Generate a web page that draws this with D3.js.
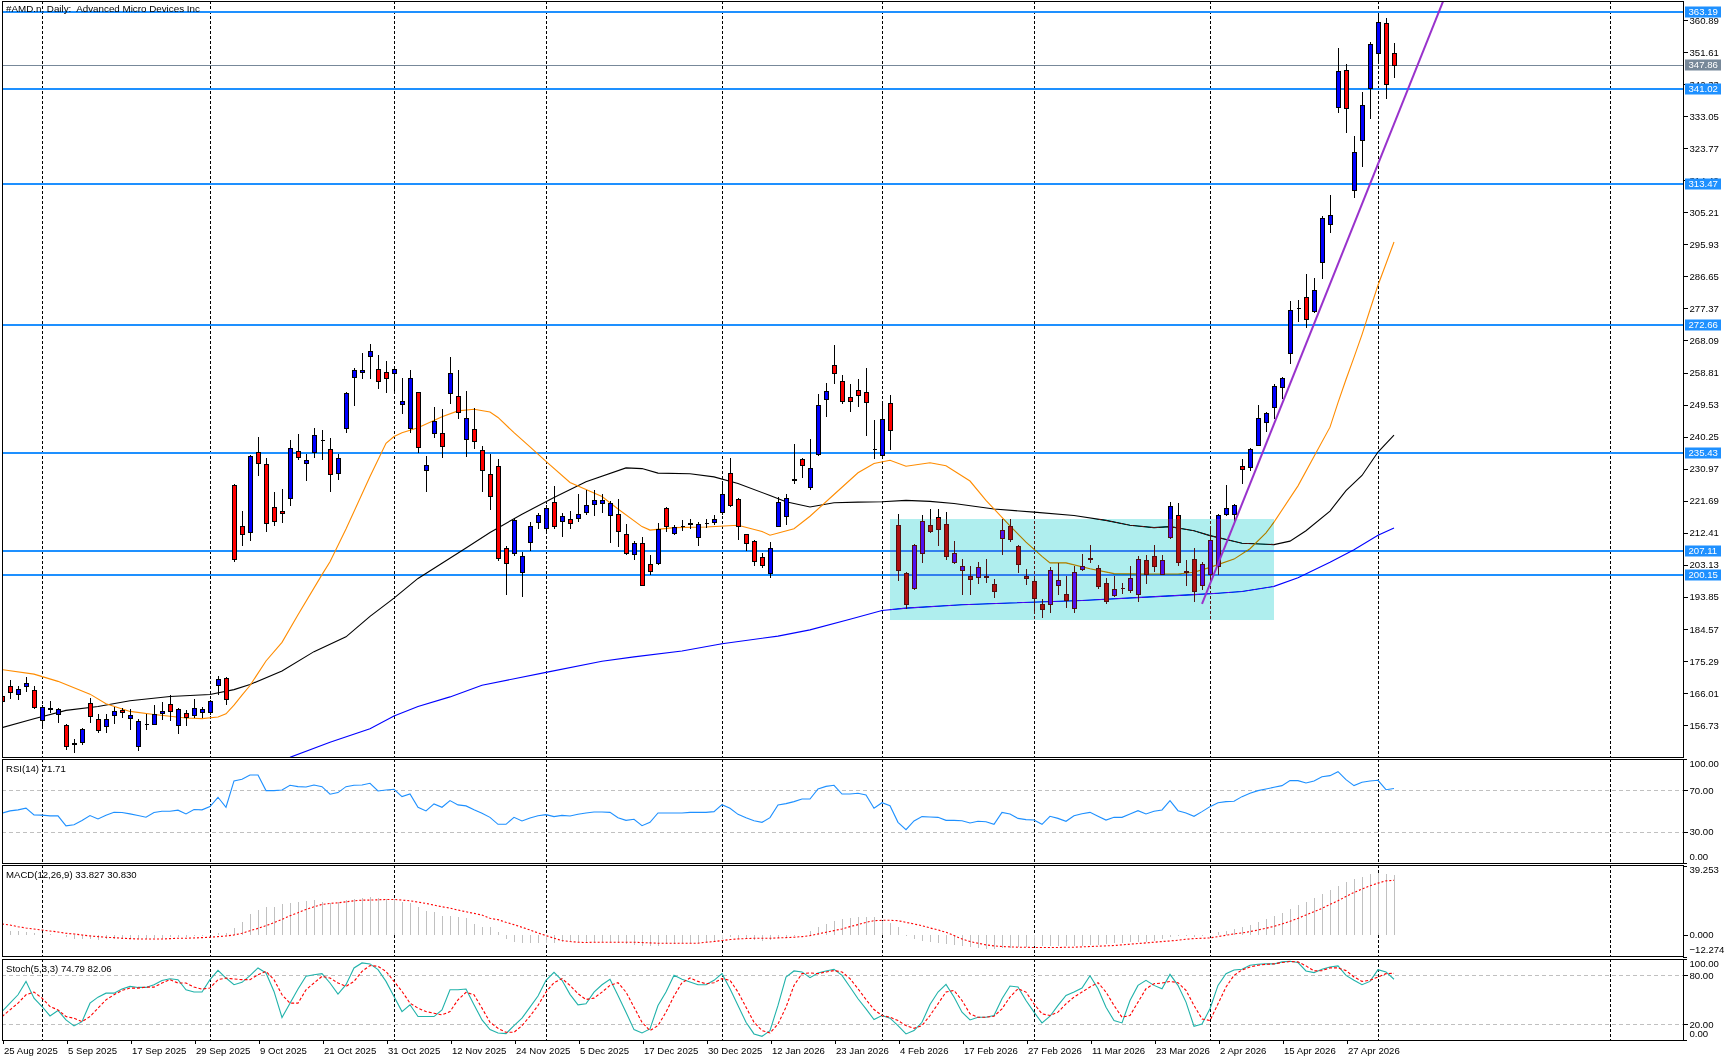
<!DOCTYPE html>
<html>
<head>
<meta charset="utf-8">
<script src="https://cdn.jsdelivr.net/npm/d3@7"></script>
<style>
  body { margin: 0; background: #fff; }
  svg { display: block; font-family: "Liberation Sans", Arial, sans-serif; }
</style>
</head>
<body>
<svg width="1731" height="1061"></svg>
<script>
// ---- data (bar 0 = 25 Aug 2025) ----
const opens = [165.13,168.1,165.8,168.12,166.77,158.08,161.46,159.82,156.82,151.4,
151.7,163.2,158.37,156.44,159.72,161.17,158.85,150.74,156.92,157.11,
160.3,162.72,156.82,160.3,159.72,160.49,160.49,168.41,170.44,226.18,
214.49,212.75,235.94,232.46,220.0,218.84,222.61,236.23,232.75,235.84,
239.22,236.81,229.85,242.8,257.58,258.83,263.47,259.7,258.83,258.74,
249.75,242.8,253.04,230.72,241.44,241.44,252.75,251.88,239.71,242.6,
236.5,229.54,231.86,208.1,206.65,201.14,209.83,215.53,213.89,221.33,
215.82,216.5,216.79,218.43,220.85,221.14,217.47,217.95,211.96,206.16,
209.54,203.46,203.75,219.69,212.44,214.28,214.95,211.19,215.15,215.53,
218.43,229.83,222.1,211.96,210.12,205.29,200.85,214.37,217.27,227.8,
233.89,225.68,235.34,251.27,260.94,256.49,251.85,253.88,253.21,236.59,
235.05,250.12,214.57,200.84,196.49,206.64,214.75,216.97,215.04,203.93,
201.71,199.78,199.68,199.68,197.65,210.89,214.27,208.47,199.78,198.33,
191.66,191.86,197.36,194.75,190.69,202.0,204.71,202.29,197.94,194.46,
196.3,195.82,194.75,204.41,205.77,200.55,211.18,217.65,201.32,204.71,
197.36,200.6,202.92,217.73,217.92,231.86,231.47,237.96,244.54,248.9,
254.7,264.58,277.36,280.65,276.68,290.81,301.68,335.78,346.31,311.53,
326.02,341.09,351.23,359.93,351.23];

const highs = [165.8,169.67,167.93,170.64,167.93,162.43,163.58,161.65,156.92,152.67,
155.95,164.55,160.01,160.01,161.94,161.75,161.46,158.56,160.01,162.43,
163.39,165.32,161.65,160.98,164.16,161.94,163.87,170.92,170.64,226.47,
218.65,234.88,240.19,234.1,224.15,225.02,239.22,240.96,235.36,242.7,
242.12,240.0,235.17,253.23,259.99,264.53,267.04,263.86,262.12,259.9,
257.09,259.51,253.23,234.59,248.88,248.21,263.18,259.51,253.42,248.4,
237.65,235.34,233.89,208.48,216.69,206.74,215.53,218.14,220.36,225.97,
218.14,218.72,223.55,224.9,224.71,223.55,221.52,222.3,215.05,209.93,
211.19,206.07,215.24,219.88,214.57,216.02,216.5,215.53,216.5,217.47,
227.13,234.08,222.49,212.15,210.41,206.65,209.64,222.78,223.55,238.23,
234.18,239.49,252.72,255.91,266.73,258.04,255.43,257.07,260.26,245.0,
250.02,252.24,217.95,201.03,209.24,217.46,219.19,219.39,218.33,209.92,
204.9,202.87,203.93,204.71,199.1,216.49,216.3,208.95,202.0,199.39,
193.31,202.48,203.64,199.87,202.67,206.35,208.95,202.97,199.29,199.78,
197.85,202.67,205.57,206.06,208.76,206.06,221.32,221.03,204.42,208.09,
203.93,213.6,217.73,226.15,220.82,233.8,237.09,249.38,247.44,255.48,
257.61,279.39,279.87,287.42,286.16,304.09,310.18,352.68,348.14,327.28,
339.93,354.42,362.63,361.38,354.33];

const lows = [163.0,164.55,164.26,166.58,161.65,156.63,160.49,157.6,149.77,148.9,
151.32,157.6,154.7,154.7,157.31,159.04,155.66,149.58,155.66,156.92,
158.56,158.27,154.41,156.63,159.04,159.04,160.01,165.81,162.91,204.25,
208.79,210.24,229.08,212.85,214.59,215.46,220.58,233.91,227.73,234.39,
233.81,224.54,227.92,241.64,249.37,257.29,257.29,254.39,253.23,253.71,
247.14,241.64,235.84,224.54,240.19,234.39,250.04,245.7,234.59,237.0,
224.52,219.4,204.62,194.76,205.87,194.09,207.32,213.89,213.12,213.89,
211.48,213.79,215.82,217.75,217.66,218.43,209.74,208.58,206.16,204.71,
197.18,200.56,203.46,212.93,211.96,213.31,213.89,208.77,214.08,215.05,
217.95,220.07,210.7,207.32,202.98,202.49,199.59,214.37,214.86,226.84,
228.57,225.0,234.85,246.25,255.91,250.12,247.7,249.25,240.65,234.18,
234.85,236.59,198.63,190.6,196.0,203.93,212.63,208.76,204.71,203.64,
194.56,194.66,197.85,198.14,193.79,206.35,210.02,201.03,197.46,189.73,
188.0,189.44,194.75,190.89,189.44,201.71,203.93,196.39,192.05,193.98,
194.95,195.24,192.63,197.85,201.23,200.36,210.98,202.97,197.17,192.63,
196.2,198.1,200.5,217.44,215.21,226.92,230.7,237.76,241.83,245.51,
251.51,261.48,273.87,271.93,276.29,286.16,299.55,334.33,328.53,309.7,
318.68,332.4,349.3,338.39,344.47];

const closes = [163.6,166.3,167.06,168.8,161.94,162.1,161.65,161.36,150.64,151.51,
155.47,159.33,155.37,158.37,160.69,160.4,159.53,157.79,157.11,159.82,
160.69,160.69,161.27,159.04,161.56,161.27,163.58,170.15,164.36,204.74,
212.17,234.58,232.75,215.36,215.94,218.26,237.1,234.49,233.43,240.77,
239.42,229.56,234.2,252.84,259.41,259.51,265.01,256.42,257.29,259.7,
250.52,257.09,237.29,231.98,244.82,237.58,258.64,247.53,245.79,239.13,
230.7,223.16,205.1,203.75,216.21,205.78,214.47,217.47,219.69,214.37,
217.37,215.34,217.75,220.36,221.81,221.81,221.04,212.93,206.65,209.54,
197.37,201.24,213.5,214.47,214.08,214.47,215.15,215.05,215.34,216.5,
223.74,220.36,214.37,209.54,204.23,203.07,208.1,221.43,222.58,228.0,
232.15,231.28,249.34,253.4,258.81,250.7,250.7,252.43,250.41,236.79,
245.48,242.29,201.53,191.86,208.95,215.91,213.01,213.59,205.77,206.64,
202.68,199.1,202.58,199.87,195.62,213.11,210.5,203.45,199.3,193.5,
190.31,201.71,198.62,192.82,201.03,202.77,205.0,196.97,192.72,196.2,
196.49,199.39,204.9,200.55,202.87,204.61,220.06,203.93,201.13,195.53,
203.26,210.4,217.44,219.56,220.53,230.89,236.7,245.51,247.06,254.9,
257.12,276.87,277.55,274.26,282.68,303.42,304.29,346.11,335.3,322.54,
336.17,353.84,360.22,342.25,347.86];

// moving averages, sampled as [bar, price]
const maFast = [[0,172.8],[4,171.5],[7,169.4],[11,165.7],[13,162.9],[16,160.7],[19,159.8],[23,158.8],[25,158.6],[27,159.1],
[28,160.0],[29,162.5],[30,165.4],[31,168.2],[33,175.3],[35,180.7],[37,188.7],[40,200.3],[41,204.0],[43,213.5],[46,228.7],
[48,238.3],[49,240.3],[50,241.4],[52,242.8],[55,246.0],[57,247.7],[59,248.2],[61,247.4],[62,245.8],[64,241.4],[66,237.3],
[68,233.1],[71,227.0],[75,222.9],[77,219.3],[80,214.2],[81,213.2],[84,213.9],[88,214.1],[92,214.6],[95,212.8],[96,211.7],
[99,213.6],[101,217.2],[104,223.5],[107,229.8],[109,232.5],[111,233.4],[113,231.7],[116,232.7],[118,231.8],[121,227.4],
[123,221.8],[126,214.4],[128,209.7],[130,205.6],[131,203.7],[133,203.7],[136,202.0],[139,200.6],[143,200.5],[147,200.5],
[149,201.0],[151,202.4],[154,204.8],[156,207.8],[158,212.4],[159,215.5],[162,226.0],[164,234.5],[166,243.0],[167,250.1],
[168,256.8],[169,263.2],[170,269.8],[171,277.0],[172,284.1],[173,290.3],[174,296.6]];
const maMid = [[0,156.0],[4,158.6],[8,161.0],[12,162.1],[16,163.8],[21,165.0],[26,165.6],[29,167.0],[31,168.5],[35,172.4],
[39,178.0],[43,182.3],[46,188.2],[49,193.5],[52,199.2],[55,203.6],[58,208.0],[61,212.5],[65,217.8],[69,222.6],[73,227.2],
[78,231.2],[80,231.0],[82,229.7],[86,229.5],[89,228.6],[92,226.7],[96,223.2],[98,221.4],[101,219.9],[104,221.1],[107,221.3],
[110,221.4],[113,221.8],[116,221.5],[119,220.9],[124,219.3],[129,218.4],[134,217.4],[138,216.0],[141,214.6],[144,213.9],
[146,214.2],[149,213.0],[151,211.6],[155,209.4],[159,209.0],[161,210.0],[163,213.0],[166,218.7],[168,224.6],[170,229.0],
[172,235.8],[174,240.7]];
const maSlow = [[36,147.4],[41,151.8],[46,155.7],[49,159.4],[52,162.1],[56,164.9],[60,168.3],[68,172.0],[75,175.2],[79,176.5],
[85,178.2],[90,180.3],[97,182.5],[101,184.3],[106,187.4],[110,189.9],[113,190.6],[120,191.6],[126,192.1],[135,192.8],
[143,193.8],[149,194.5],[152,194.9],[155,195.4],[159,196.9],[162,199.4],[166,203.9],[169,207.5],[172,211.7],[174,213.8]];

const rsi = [47.9,50.1,51.1,52.7,46.3,46.0,45.3,45.3,35.7,36.7,40.8,45.6,42.4,46.0,48.8,48.5,47.2,45.6,44.0,48.5,
49.8,49.8,50.8,47.2,51.4,51.1,54.3,63.2,53.6,78.9,80.5,84.6,84.6,69.6,69.6,70.2,74.7,73.4,73.1,75.0,
73.4,66.1,67.7,73.4,74.7,75.0,76.6,69.3,70.2,70.9,63.9,66.4,53.6,50.1,56.8,53.6,60.0,55.9,54.9,51.1,47.9,
43.9,37.2,37.2,43.9,40.4,43.3,45.5,46.5,44.6,45.8,45.2,46.8,48.1,49.0,49.0,48.7,43.6,41.0,42.0,35.9,
39.1,48.1,48.1,48.1,48.1,48.7,48.7,48.7,49.4,56.1,52.6,46.8,43.6,40.7,39.1,43.6,55.8,57.1,59.0,61.5,
61.5,71.2,73.7,74.7,66.3,66.3,67.0,65.4,52.6,58.0,55.1,39.1,32.1,40.4,44.6,44.2,43.9,41.0,41.0,40.7,
38.5,40.1,39.7,37.2,48.7,47.1,42.9,41.7,41.3,37.2,44.9,42.9,40.1,45.5,47.4,48.7,44.9,41.3,43.9,43.9,
47.1,50.3,47.1,49.7,51.0,59.9,50.3,48.1,44.9,49.4,54.2,58.0,59.0,59.3,63.8,67.0,69.6,71.2,72.8,74.4,
79.2,79.2,76.9,78.8,83.0,84.0,87.8,80.1,74.4,77.6,78.8,79.5,70.5,71.71];

const macdHist = [2.2,2.2,2.2,1.8,1.2,0.9,0.3,-0.1,-1.4,-2.3,-2.5,-2.5,-2.9,-2.2,-2.2,-2.2,-2.2,-2.2,-2.2,-2.0,
-1.6,-1.4,-1.2,-1.0,-0.7,-0.5,-0.1,0.9,0.9,3.7,7.4,11.8,14.0,15.5,15.9,17.4,18.1,18.7,19.3,19.7,
18.7,18.3,18.7,19.7,20.2,20.6,21.2,21.0,20.2,20.2,18.7,18.1,15.9,13.5,13.1,10.8,10.8,10.3,9.3,6.1,4.6,
4.3,1.4,-2.3,-3.8,-4.6,-4.9,-4.9,-4.8,-4.6,-4.2,-4.2,-4.2,-4.2,-4.2,-4.2,-4.2,-4.6,-5.1,-5.7,-6.4,
-6.4,-6.1,-5.3,-5.1,-4.8,-4.6,-4.6,-4.2,-3.8,-2.3,-1.4,-1.7,-2.3,-2.9,-3.3,-2.9,-1.7,-1.0,-0.4,0.1,
2.0,4.3,6.1,8.0,9.0,9.3,9.9,10.3,9.9,8.0,6.5,4.3,-0.5,-2.3,-3.3,-4.2,-4.8,-5.1,-5.7,-6.4,
-7.0,-7.4,-7.9,-8.3,-7.6,-7.4,-7.0,-7.0,-6.6,-6.6,-6.1,-6.4,-6.6,-6.4,-6.1,-5.7,-5.7,-5.3,-4.8,-4.6,
-4.2,-3.8,-3.8,-3.3,-2.3,-1.4,-0.8,-0.8,-1.0,-0.8,-0.4,1.4,2.4,3.3,4.3,5.6,7.1,9.0,10.8,12.3,
14.6,17.0,18.7,20.6,23.1,25.5,27.8,30.0,31.5,33.0,34.3,35.2,34.3,33.827];

const macdSignal = [6.12,5.55,4.61,3.86,3.3,2.73,2.17,1.61,0.86,0.48,-0.08,-0.65,-1.02,-1.4,-1.59,-1.96,-2.15,-2.34,-2.34,-2.34,
-2.34,-2.15,-1.96,-1.96,-1.77,-1.59,-1.4,-1.02,-0.65,-0.08,0.86,2.36,3.67,5.18,6.87,8.75,10.81,12.51,14.38,15.89,
17.2,17.77,18.14,18.71,19.27,19.65,19.65,19.83,20.02,20.02,19.65,19.27,18.52,17.77,16.83,15.89,15.14,14.01,13.07,12.13,11.19,
9.34,8.59,7.08,5.77,4.27,2.76,1.07,-0.43,-1.94,-3.25,-3.81,-4.19,-4.38,-4.19,-4.19,-4.19,-4.19,-4.19,-4.19,-4.38,
-4.57,-4.75,-4.75,-4.75,-4.75,-4.75,-4.75,-4.19,-3.81,-3.25,-2.69,-2.31,-2.12,-1.94,-1.94,-1.94,-1.75,-1.56,-1.37,-1.0,
-0.43,0.51,1.45,2.39,3.33,4.64,5.77,7.08,8.02,8.21,8.21,8.02,7.08,6.14,5.2,3.89,2.76,1.45,-0.43,-2.31,
-3.81,-4.75,-5.69,-6.26,-6.63,-6.82,-7.01,-7.01,-7.2,-7.2,-7.2,-7.2,-7.01,-7.01,-6.82,-6.63,-6.45,-6.26,-6.07,-5.69,
-5.32,-4.94,-4.57,-4.19,-3.81,-3.44,-3.06,-2.5,-2.12,-1.94,-1.75,-1.0,-0.24,0.51,1.07,1.82,2.76,3.7,4.83,6.14,
7.65,9.34,11.22,13.1,14.98,17.23,19.3,21.74,23.99,25.87,27.75,29.26,30.57,30.83];

const stochMain = [35.2,45.5,55.8,72.2,51.7,41.4,29.9,36.5,25.0,17.6,22.9,45.5,52.9,57.8,57.8,62.8,66.1,64.8,64.8,68.1,
73.4,75.5,74.3,61.9,59.1,59.1,74.3,85.8,76.3,68.1,71.0,79.2,88.7,82.5,59.9,27.9,45.5,62.8,78.4,80.4,
81.7,70.2,56.6,68.1,88.7,94.8,93.6,86.6,72.2,53.7,35.2,43.5,29.1,29.1,29.1,37.3,61.9,61.9,62.8,43.5,25.0,
13.1,9.0,8.2,18.0,27.1,40.6,54.2,73.5,83.4,73.5,56.3,43.5,44.7,59.1,68.1,74.7,55.0,34.5,13.1,9.0,
13.9,42.7,59.1,79.6,74.7,71.4,68.1,68.1,73.5,81.7,63.2,42.7,22.1,7.8,4.9,11.9,42.7,77.6,85.0,83.8,
76.7,82.5,85.0,87.0,79.6,65.3,50.9,38.6,25.4,30.4,27.1,18.0,7.8,11.9,22.1,43.9,59.1,68.5,53.0,34.5,
25.0,28.3,28.3,30.4,50.9,66.5,65.3,48.8,34.5,21.3,29.5,42.7,55.0,59.1,64.0,79.2,63.2,40.6,24.2,21.3,
48.8,67.3,73.5,67.3,63.2,80.8,67.3,46.8,17.2,20.0,38.6,67.3,81.7,86.2,87.0,92.0,93.2,93.6,93.6,96.1,
96.9,95.3,85.0,82.9,87.0,89.9,91.2,79.6,73.5,68.1,72.2,86.6,83.8,74.79];

const stochSignal = [29.1,37.3,45.5,55.8,59.1,51.7,41.4,37.3,29.1,27.0,22.9,29.1,39.4,49.6,55.8,61.1,64.0,64.0,65.2,65.2,
70.2,74.3,70.2,70.2,65.2,62.8,64.0,74.3,76.3,75.1,74.3,74.3,80.4,84.5,74.3,55.8,45.5,45.5,61.9,70.2,
78.4,76.3,70.2,66.1,72.2,84.5,91.5,90.7,84.5,72.2,59.9,45.5,39.4,35.2,33.2,31.1,35.2,49.6,58.7,55.8,39.4,
22.1,14.7,9.8,9.8,18.0,29.5,42.7,59.1,70.6,75.5,67.3,57.0,50.0,51.7,59.1,67.3,70.6,59.1,40.6,22.1,
11.9,18.0,34.5,54.2,70.6,76.4,72.2,69.3,70.6,75.5,73.5,59.1,40.6,22.1,11.9,9.0,20.0,40.6,67.3,81.7,
82.5,81.7,83.8,85.4,83.8,75.5,63.2,50.0,37.7,30.4,28.3,24.2,18.0,14.7,18.0,30.4,44.7,59.1,61.2,48.8,
32.4,28.3,28.3,29.5,38.6,53.0,63.2,59.1,44.7,32.4,30.4,34.5,44.7,53.0,59.1,65.3,70.6,59.1,42.7,28.3,
30.4,46.8,63.2,69.3,70.2,72.2,70.6,61.2,42.7,26.2,24.2,44.7,65.3,79.6,86.2,89.9,92.0,93.2,93.6,95.3,
96.5,96.1,91.2,85.0,85.4,88.7,88.7,85.4,77.6,72.2,73.5,77.6,81.7,82.06];

const dateLabels = ["25 Aug 2025","5 Sep 2025","17 Sep 2025","29 Sep 2025","9 Oct 2025","21 Oct 2025",
  "31 Oct 2025","12 Nov 2025","24 Nov 2025","5 Dec 2025","17 Dec 2025","30 Dec 2025","12 Jan 2026",
  "23 Jan 2026","4 Feb 2026","17 Feb 2026","27 Feb 2026","11 Mar 2026","23 Mar 2026","2 Apr 2026",
  "15 Apr 2026","27 Apr 2026"];
const labelStep = 8;
const gridBars = [5, 26, 49, 68, 90, 110, 129, 151, 172, 201];
const priceTicks = [360.89,351.61,342.33,333.05,323.77,314.49,305.21,295.93,286.65,277.37,268.09,258.81,
  249.53,240.25,230.97,221.69,212.41,203.13,193.85,184.57,175.29,166.01,156.73];
const levels = [363.19, 341.02, 313.47, 272.66, 235.43, 207.11, 200.15];
const lastPrice = 347.86;
const zoneBars = [111, 159], zonePrices = [187.16, 216.4];
const trendBars = [150, 180], trendPrices = [191.8, 365.5];
const macdRange = [-12.274, 39.253];
const title = "#AMD.n, Daily:  Advanced Micro Devices Inc";

// ---- layout ----
const svg = d3.select("svg");
const left = 2, right = 1683;
const pane = {
  main:  [1, 757],
  rsi:   [759, 863],
  macd:  [865, 956],
  stoch: [959, 1040]
};
const FONT = 9.6;

const x = d3.scaleLinear().domain([0, 210.125]).range([left, right]);
const yP = d3.scaleLinear().domain([147.5, 366.09]).range([757, 2]);
const yR = d3.scaleLinear().domain([0, 100]).range([863, 759]);
const yM = d3.scaleLinear().domain(macdRange).range([956.5, 865.5]);
const yS = d3.scaleLinear().domain([0, 100]).range([1040.3, 958.7]);

svg.append("rect").attr("width", 1731).attr("height", 1061).attr("fill", "#fff");

const defs = svg.append("defs");
Object.entries(pane).forEach(([k, [t, b]]) => {
  defs.append("clipPath").attr("id", "clip-" + k)
    .append("rect").attr("x", left + 1).attr("y", t + 1)
    .attr("width", right - left - 1).attr("height", b - t - 1);
});
const layer = k => svg.append("g").attr("clip-path", `url(#clip-${k})`);

// vertical grid in every pane
Object.entries(pane).forEach(([k, [t, b]]) => {
  layer(k).selectAll("line").data(gridBars).join("line")
    .attr("x1", d => x(d) + 0.5).attr("x2", d => x(d) + 0.5)
    .attr("y1", t).attr("y2", b)
    .attr("stroke", "#000").attr("stroke-dasharray", "3,2")
    .attr("shape-rendering", "crispEdges");
});

// ---- main pane ----
const main = layer("main");

main.append("line")
  .attr("x1", left).attr("x2", right)
  .attr("y1", Math.round(yP(lastPrice)) + 0.5).attr("y2", Math.round(yP(lastPrice)) + 0.5)
  .attr("stroke", "#778899").attr("shape-rendering", "crispEdges");

main.selectAll("line.level").data(levels).join("line").attr("class", "level")
  .attr("x1", left).attr("x2", right)
  .attr("y1", d => Math.round(yP(d))).attr("y2", d => Math.round(yP(d)))
  .attr("stroke", "#1e90ff").attr("stroke-width", 2).attr("shape-rendering", "crispEdges");

const maLine = d3.line().x(d => x(d[0])).y(d => yP(d[1]));
[[maSlow, "#0000ff"], [maMid, "#000000"], [maFast, "#ff8c00"]].forEach(([pts, col]) => {
  main.append("path").datum(pts).attr("d", maLine)
    .attr("fill", "none").attr("stroke", col).attr("stroke-width", 1.1);
});

const bars = closes.map((c, i) => ({ i, o: opens[i], h: highs[i], l: lows[i], c }));
const px = i => Math.round(x(i));
main.selectAll("line.wick").data(bars).join("line").attr("class", "wick")
  .attr("x1", d => px(d.i) + 0.5).attr("x2", d => px(d.i) + 0.5)
  .attr("y1", d => Math.round(yP(d.h))).attr("y2", d => Math.round(yP(d.l)) + 1)
  .attr("stroke", "#000").attr("shape-rendering", "crispEdges");
main.selectAll("path.body").data(bars).join("path").attr("class", "body")
  .attr("d", d => {
    const t = Math.round(yP(Math.max(d.o, d.c))) + 0.5;
    const b = Math.round(yP(Math.min(d.o, d.c))) + 0.5;
    const x0 = px(d.i) - 1.5;
    return `M${x0},${t}H${x0 + 4}V${b}H${x0}Z`;
  })
  .attr("fill", d => d.c >= d.o ? "#0000ff" : "#ff0000")
  .attr("stroke", "#000").attr("shape-rendering", "crispEdges");

// filled zone: placed straight on the svg (not in a clipped, isolated group)
// so that it inverts whatever lies under it, as the terminal does
svg.append("rect")
  .attr("x", x(zoneBars[0])).attr("width", x(zoneBars[1]) - x(zoneBars[0]))
  .attr("y", yP(zonePrices[1])).attr("height", yP(zonePrices[0]) - yP(zonePrices[1]))
  .attr("fill", "rgb(80,17,17)").style("mix-blend-mode", "difference");

const slope = (trendPrices[1] - trendPrices[0]) / (trendBars[1] - trendBars[0]);
layer("main").append("line")
  .attr("x1", x(trendBars[0])).attr("y1", yP(trendPrices[0]))
  .attr("x2", x(trendBars[0] + 40)).attr("y2", yP(trendPrices[0] + slope * 40))
  .attr("stroke", "#9932cc").attr("stroke-width", 2);

// ---- RSI pane ----
const rsiG = layer("rsi");
rsiG.selectAll("line.lv").data([70, 30]).join("line").attr("class", "lv")
  .attr("x1", left).attr("x2", right)
  .attr("y1", d => Math.round(yR(d)) + 0.5).attr("y2", d => Math.round(yR(d)) + 0.5)
  .attr("stroke", "#c0c0c0").attr("stroke-dasharray", "4,3").attr("shape-rendering", "crispEdges");
rsiG.append("path").datum(rsi)
  .attr("d", d3.line().x((d, i) => x(i)).y(d => yR(d)))
  .attr("fill", "none").attr("stroke", "#1e90ff").attr("stroke-width", 1.1);

// ---- MACD pane ----
const macdG = layer("macd");
macdG.selectAll("line.h").data(macdHist).join("line").attr("class", "h")
  .attr("x1", (d, i) => px(i) + 0.5).attr("x2", (d, i) => px(i) + 0.5)
  .attr("y1", yM(0)).attr("y2", d => yM(d))
  .attr("stroke", "#c0c0c0").attr("shape-rendering", "crispEdges");
macdG.append("path").datum(macdSignal)
  .attr("d", d3.line().x((d, i) => x(i)).y(d => yM(d)))
  .attr("fill", "none").attr("stroke", "#ff0000").attr("stroke-width", 1.1)
  .attr("stroke-dasharray", "2,2");

// ---- Stochastic pane ----
const stG = layer("stoch");
stG.selectAll("line.lv").data([80, 20]).join("line").attr("class", "lv")
  .attr("x1", left).attr("x2", right)
  .attr("y1", d => Math.round(yS(d)) + 0.5).attr("y2", d => Math.round(yS(d)) + 0.5)
  .attr("stroke", "#c0c0c0").attr("stroke-dasharray", "4,3").attr("shape-rendering", "crispEdges");
stG.append("path").datum(stochMain)
  .attr("d", d3.line().x((d, i) => x(i)).y(d => yS(d)))
  .attr("fill", "none").attr("stroke", "#20b2aa").attr("stroke-width", 1.1);
stG.append("path").datum(stochSignal)
  .attr("d", d3.line().x((d, i) => x(i)).y(d => yS(d)))
  .attr("fill", "none").attr("stroke", "#ff0000").attr("stroke-width", 1.1)
  .attr("stroke-dasharray", "3,2");

// ---- pane frames ----
Object.values(pane).forEach(([t, b]) => {
  svg.append("rect")
    .attr("x", left + 0.5).attr("y", t + 0.5)
    .attr("width", right - left).attr("height", b - t)
    .attr("fill", "none").attr("stroke", "#000").attr("shape-rendering", "crispEdges");
});

// ---- price axis ----
const axisFont = g => g.attr("font-family", '"Liberation Sans", Arial, sans-serif')
  .attr("font-size", FONT).call(g => g.select(".domain").remove())
  .call(g => g.selectAll("line").attr("shape-rendering", "crispEdges"));

svg.append("g").attr("transform", `translate(${right + 0.5},0)`)
  .call(d3.axisRight(yP).tickValues(priceTicks).tickSize(4).tickPadding(2)
    .tickFormat(d3.format(".2f")))
  .call(axisFont);

// level tags on the axis
const tag = (v, col) => {
  const yy = Math.round(yP(v));
  svg.append("rect").attr("x", right + 2).attr("y", yy - 5.5)
    .attr("width", 36).attr("height", 11).attr("fill", col);
  svg.append("text").attr("x", right + 5.5).attr("y", yy + 0.5)
    .attr("dominant-baseline", "middle").attr("font-size", FONT)
    .attr("fill", "#fff").text(v.toFixed(2));
};
tag(lastPrice, "#778899");
levels.forEach(v => tag(v, "#1e90ff"));

// ---- sub-pane scales ----
const sideLabels = [
  [yR, [70, 30], ".2f", [[100, 764], [0, 857.5]]],
  [yM, [0], ".3f", [[macdRange[1], 870.5], [macdRange[0], 950.5]]],
  [yS, [80, 20], ".2f", [[100, 964], [0, 1034.5]]]
];
sideLabels.forEach(([sc, ticks, fmt, ends]) => {
  svg.append("g").attr("transform", `translate(${right + 0.5},0)`)
    .call(d3.axisRight(sc).tickValues(ticks).tickSize(4).tickPadding(2).tickFormat(d3.format(fmt)))
    .call(axisFont);
  ends.forEach(([v, yy]) => {
    svg.append("text").attr("x", right + 6.5).attr("y", yy)
      .attr("dominant-baseline", "middle").attr("font-size", FONT)
      .text(d3.format(fmt)(v));
  });
  const [lo, hi] = sc.range();
  [lo, hi].forEach(yy => svg.append("line")
    .attr("x1", right).attr("x2", right + 4)
    .attr("y1", Math.round(yy) + 0.5).attr("y2", Math.round(yy) + 0.5)
    .attr("stroke", "#000").attr("shape-rendering", "crispEdges"));
});

// ---- time axis ----
const labelBars = dateLabels.map((d, k) => k * labelStep);
svg.append("g").attr("transform", `translate(0.5,${pane.stoch[1] + 0.5})`)
  .call(d3.axisBottom(x).tickValues(labelBars).tickSize(3).tickPadding(3.5)
    .tickFormat((d, k) => dateLabels[k]))
  .call(axisFont)
  .call(g => g.selectAll("text").attr("text-anchor", "start").attr("x", 1));

// ---- captions ----
svg.append("text").attr("x", 6).attr("y", 12).attr("font-size", 9.8)
  .style("white-space", "pre").text(title);
svg.append("text").attr("x", 6).attr("y", 771.5).attr("font-size", FONT)
  .text(`RSI(14) ${rsi[rsi.length - 1].toFixed(2)}`);
svg.append("text").attr("x", 6).attr("y", 877.5).attr("font-size", FONT)
  .text(`MACD(12,26,9) ${macdHist[macdHist.length - 1].toFixed(3)} ${macdSignal[macdSignal.length - 1].toFixed(3)}`);
svg.append("text").attr("x", 6).attr("y", 971.5).attr("font-size", FONT)
  .text(`Stoch(5,3,3) ${stochMain[stochMain.length - 1].toFixed(2)} ${stochSignal[stochSignal.length - 1].toFixed(2)}`);
</script>
</body>
</html>
